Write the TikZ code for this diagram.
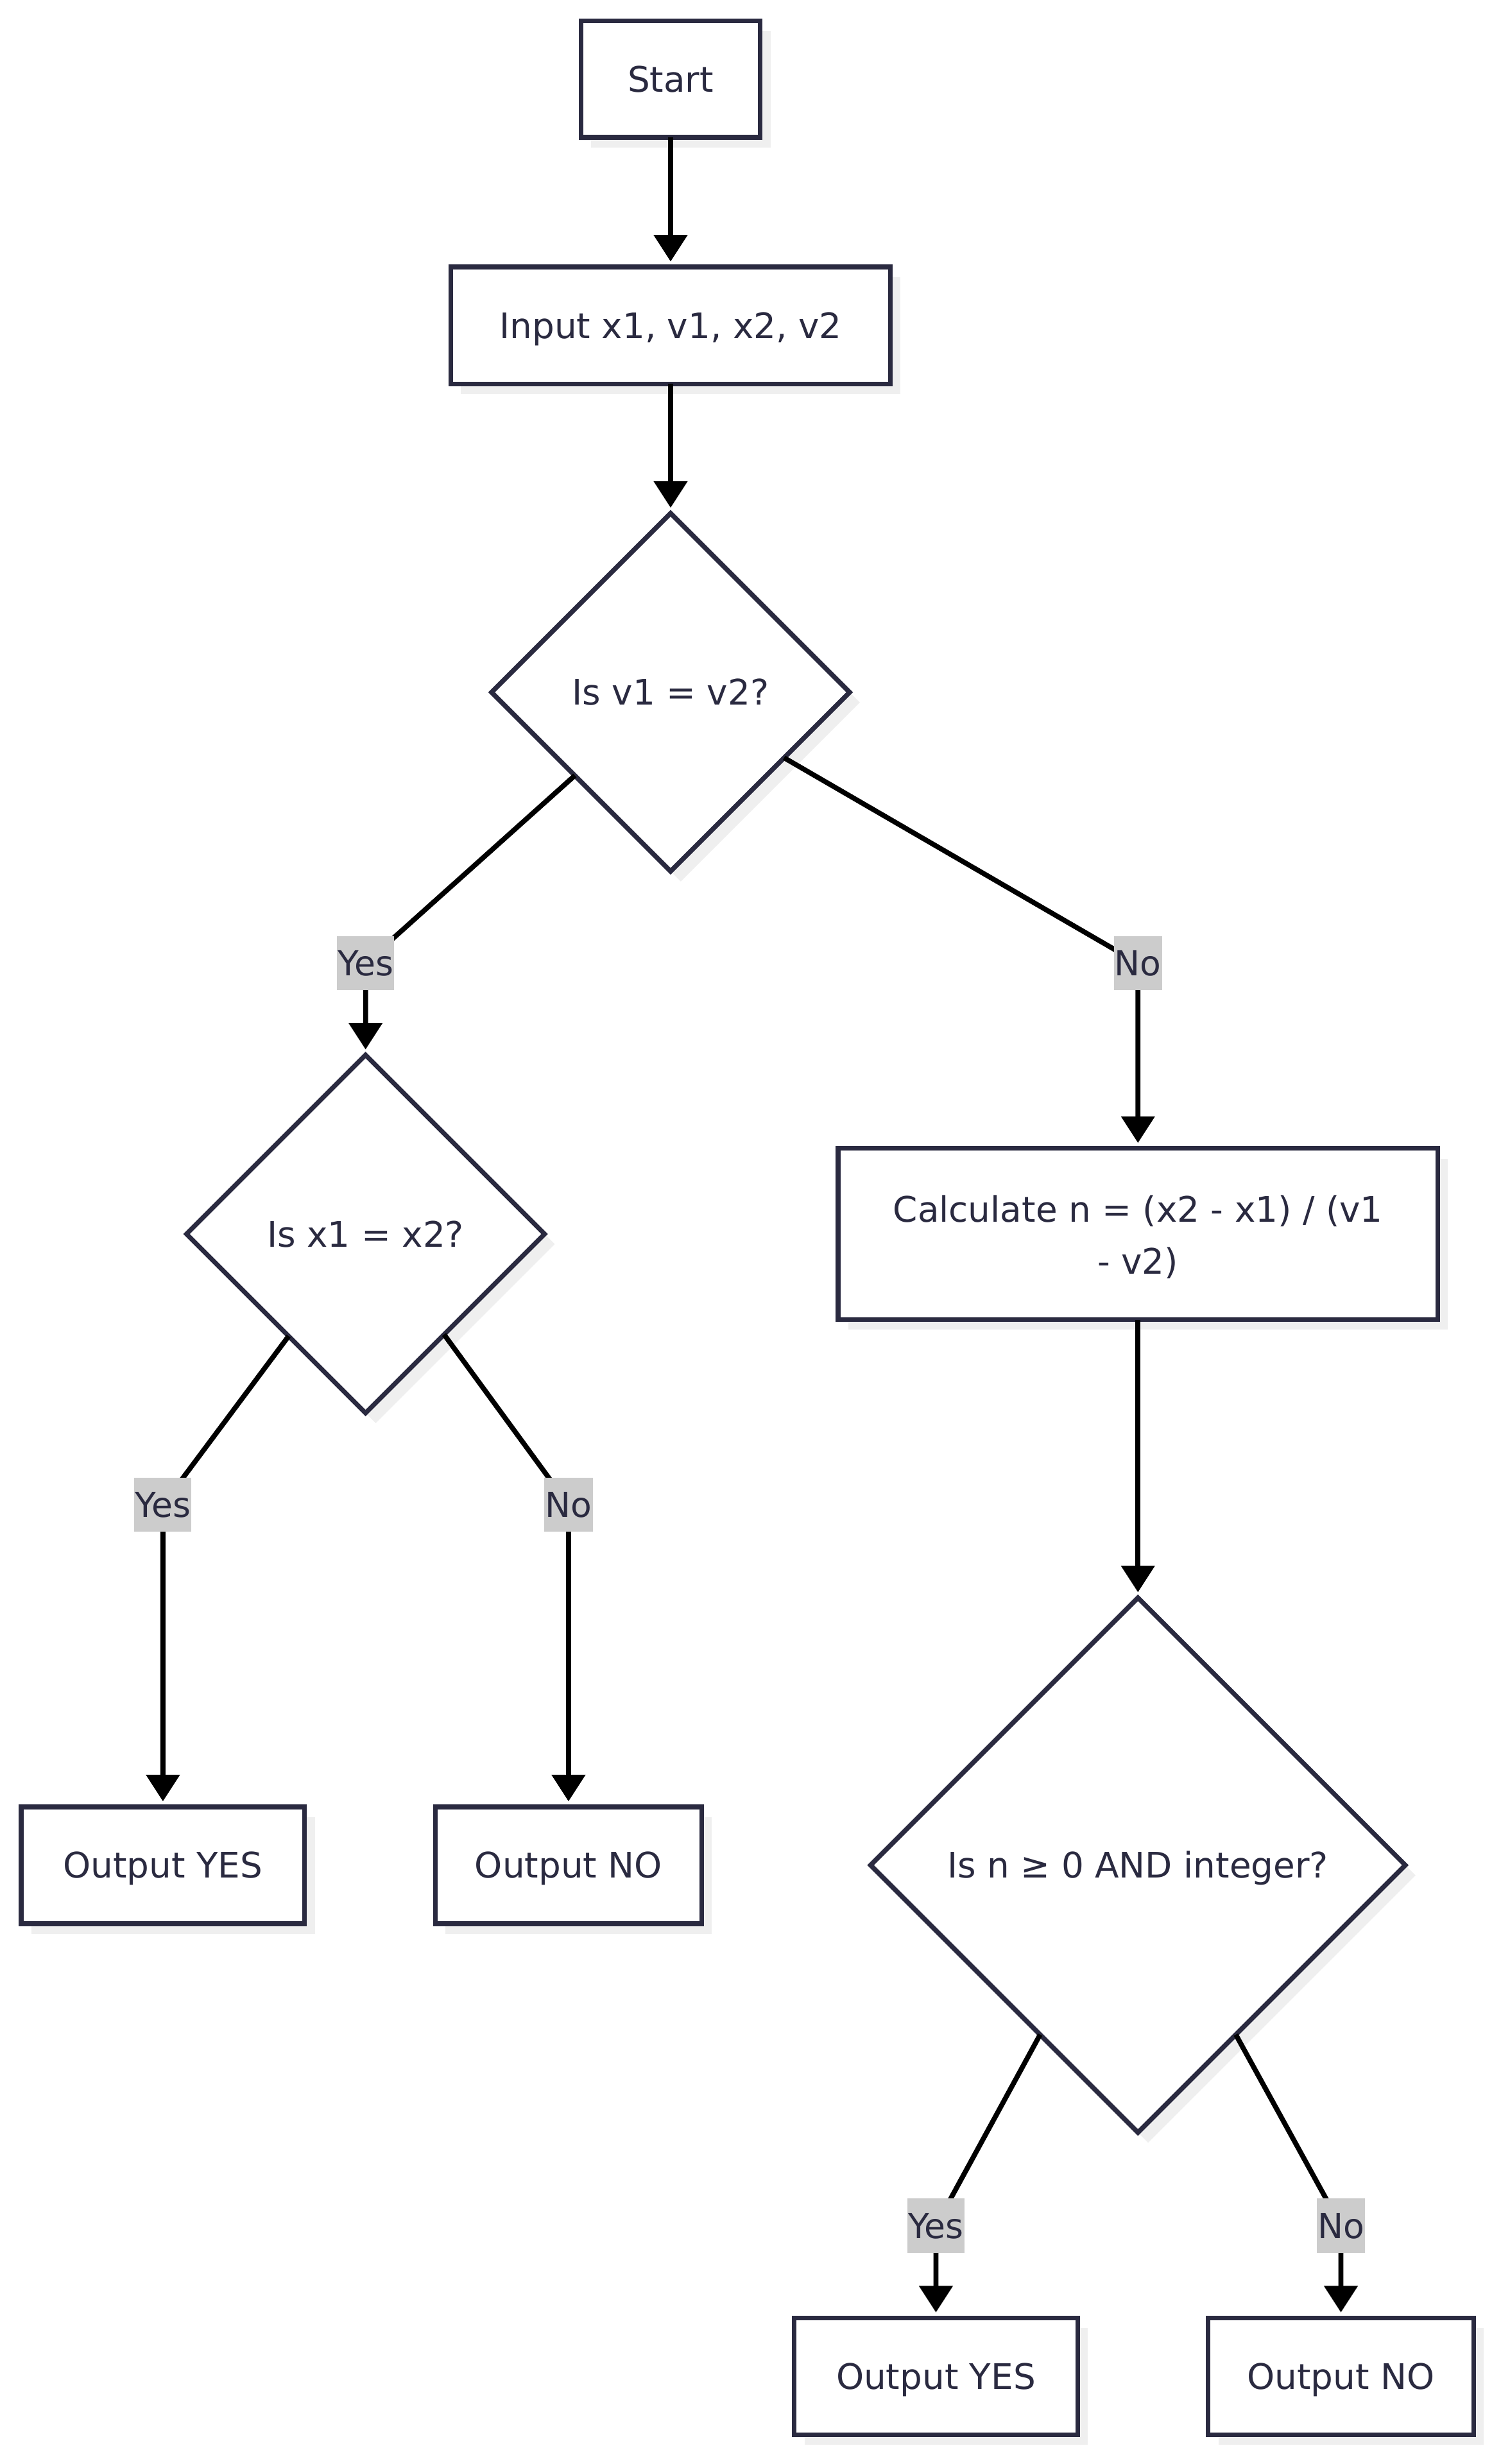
\documentclass[tikz,border=0pt]{standalone}
\usepackage{fontspec}
\setmainfont{DejaVu Sans}
\usetikzlibrary{shapes.geometric,arrows.meta,shadows}
\definecolor{ink}{RGB}{42,42,64}
\definecolor{shadowc}{RGB}{239,239,239}
\definecolor{lblbg}{RGB}{204,204,204}
\newcommand\nodefont{\fontsize{22.5}{33.5}\selectfont}
\newcommand\lblfont{\fontsize{22}{26}\selectfont}
\begin{document}
\begin{tikzpicture}[x=1pt,y=-1pt,
  box/.style={draw=ink, line width=3pt, fill=white, rectangle, inner sep=0pt, outer sep=0pt,
    text=ink, font=\nodefont, text height=16.4pt, text depth=0pt,
    drop shadow={shadow xshift=6.5pt, shadow yshift=-6.5pt, fill=shadowc, opacity=1}},
  dia/.style={box, diamond, aspect=1},
  edge/.style={draw=black, line width=3.2pt, line join=round,
    -{Triangle[width=21pt,length=17pt]}, shorten >=3.5pt},
  lbl/.style={fill=lblbg, text=ink, font=\lblfont, inner xsep=0.5pt, inner ysep=0pt,
    minimum height=34.7pt, text height=16.1pt, text depth=0pt}
]
\fill[white] (0,0) rectangle (960,1576.06);
\useasboundingbox (0,0) rectangle (960,1576.06);

% nodes
\node[box, minimum width=114.7pt, minimum height=74.4pt] (start) at (428.9,50.6) {Start};
\node[box, minimum width=281.2pt, minimum height=74.8pt] (input) at (428.9,208.2) {Input x1, v1, x2, v2};
\node[dia, minimum width=229pt, minimum height=229pt] (d1) at (428.9,442.8) {Is v1 = v2?};
\node[dia, minimum width=229pt, minimum height=229pt] (d2) at (233.8,789.3) {Is x1 = x2?};
\node[box, minimum width=383.5pt, minimum height=109.5pt, align=center, text height=51.5pt, text depth=0pt] (calc) at (727.8,789.3) {Calculate n = (x2 - x1) / (v1\\- v2)};
\node[dia, minimum width=342pt, minimum height=342pt] (d3) at (727.8,1193) {Is n ≥ 0 AND integer?};
\node[box, minimum width=181.3pt, minimum height=74.8pt] (oy1) at (104.2,1193.1) {Output YES};
\node[box, minimum width=170.2pt, minimum height=74.8pt] (on1) at (363.6,1193.1) {Output NO};
\node[box, minimum width=181.2pt, minimum height=74.8pt] (oy2) at (598.6,1520) {Output YES};
\node[box, minimum width=169.8pt, minimum height=74.8pt] (on2) at (857.6,1520) {Output NO};

% label positions
\coordinate (cy1) at (233.8,616);
\coordinate (cn1) at (727.8,616);
\coordinate (cy2) at (104.2,962.5);
\coordinate (cn2) at (363.6,962.5);
\coordinate (cy3) at (598.6,1423.6);
\coordinate (cn3) at (857.6,1423.6);

% edges
\draw[edge] (start) -- (input);
\draw[edge] (input) -- (d1);
\draw[edge] (d1.221.9) -- (cy1) -- (d2.north);
\draw[edge] (d1.-30.7) -- (cn1) -- (calc.north);
\draw[edge] (d2.233.4) -- (cy2) -- (oy1.north);
\draw[edge] (d2.-52.9) -- (cn2) -- (on1.north);
\draw[edge] (calc) -- (d3);
\draw[edge] (d3.240.9) -- (cy3) -- (oy2.north);
\draw[edge] (d3.-60.7) -- (cn3) -- (on2.north);

% edge labels
\node[lbl] (ly1) at (cy1) {Yes};
\node[lbl] (ln1) at (cn1) {No};
\node[lbl] (ly2) at (cy2) {Yes};
\node[lbl] (ln2) at (cn2) {No};
\node[lbl] (ly3) at (cy3) {Yes};
\node[lbl] (ln3) at (cn3) {No};
\end{tikzpicture}
\end{document}
